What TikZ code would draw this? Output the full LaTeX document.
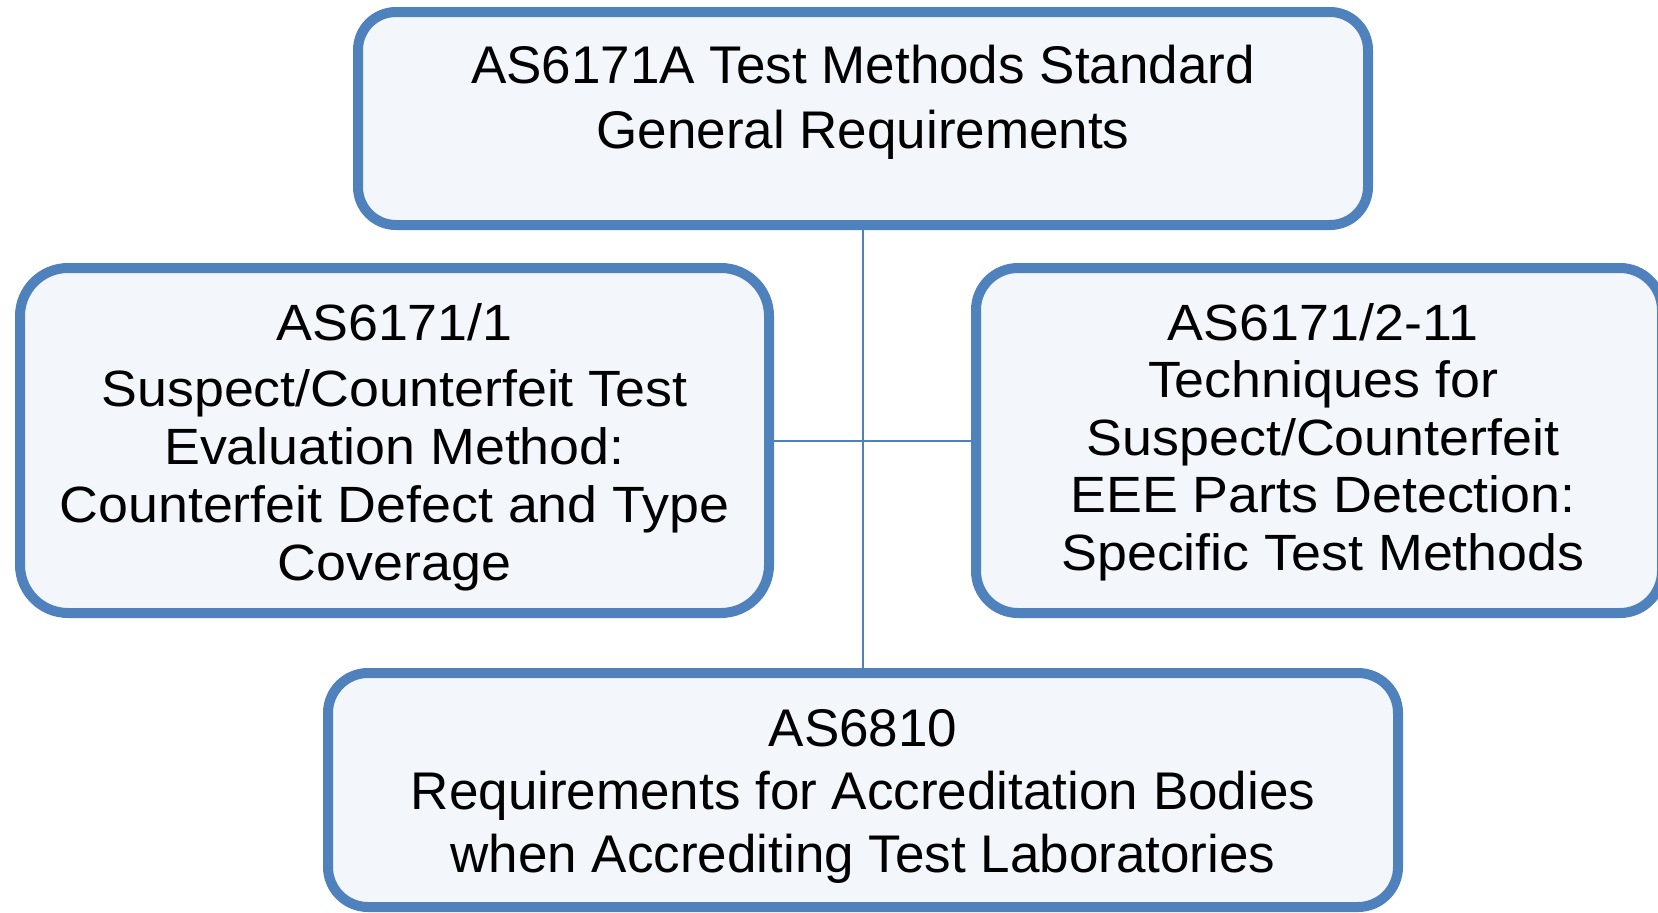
\documentclass[tikz,border=0pt]{standalone}
\usepackage{fontspec}
\setmainfont{Liberation Sans}
% the side boxes use a slightly wider setting of the same face
\newfontfamily\widesans[FakeStretch=1.055]{Liberation Sans}
\definecolor{frameblue}{HTML}{4F81BD}
\definecolor{panelfill}{HTML}{F3F7FB}
\tikzset{
  panel/.style={draw=frameblue, fill=panelfill, line width=10pt, inner sep=0pt, outer sep=0pt},
  link/.style={draw=frameblue, line width=2pt},
  caption/.style={align=center, inner sep=0pt, text=black}
}
\begin{document}
\begin{tikzpicture}[x=1pt,y=-1pt]
  \path[use as bounding box, clip] (0,0) rectangle (1658,913);
  \fill[white] (0,0) rectangle (1658,913);

  % standards boxes
  \node[panel, rounded corners=38pt, minimum width=1010pt, minimum height=213pt] (top) at (863,118.5) {};
  \node[panel, rounded corners=48pt, minimum width=749pt, minimum height=345pt] (left) at (394.5,440.5) {};
  \node[panel, rounded corners=42pt, minimum width=686pt, minimum height=345pt] (right) at (1319,440.5) {};
  \node[panel, rounded corners=40pt, minimum width=1070pt, minimum height=234pt] (bottom) at (863,790) {};

  % connectors between the boxes
  \path[link] (top.south) -- (bottom.north);
  \path[link] (left.east) -- (right.west);

  % box texts
  \node[caption, anchor=north, font=\fontsize{53}{65}\selectfont] (toptext) at ([yshift=-33pt]top.north)
    {AS6171A Test Methods Standard\\General Requirements};
  \node[caption, anchor=north, font=\widesans\fontsize{51}{58}\selectfont] (lefttext) at ([yshift=-35pt]left.north)
    {AS6171/1\\[8pt]Suspect/Counterfeit Test\\Evaluation Method:\\Counterfeit Defect and Type\\Coverage};
  \node[caption, anchor=north, font=\widesans\fontsize{51}{57.5}\selectfont] (righttext) at ([xshift=4pt,yshift=-35pt]right.north)
    {AS6171/2-11\\Techniques for\\Suspect/Counterfeit\\EEE Parts Detection:\\Specific Test Methods};
  \node[caption, anchor=north, font=\fontsize{53}{63}\selectfont] (bottomtext) at ([yshift=-36pt]bottom.north)
    {AS6810\\Requirements for Accreditation Bodies\\when Accrediting Test Laboratories};
\end{tikzpicture}
\end{document}
